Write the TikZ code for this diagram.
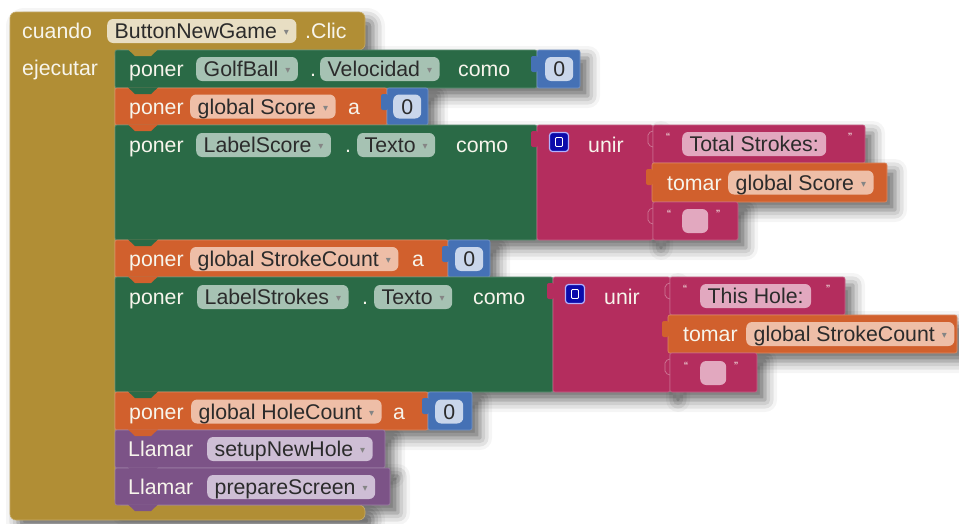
\documentclass[tikz,border=0pt]{standalone}
\usepackage{fontspec}
\setmainfont{Liberation Sans}
\newfontfamily\arrowfont{DejaVu Sans}
\usetikzlibrary{shadows.blur}

\definecolor{ctrl}{HTML}{B18E35}
\definecolor{ctrlfld}{HTML}{E8DEC3}
\definecolor{setgreen}{HTML}{2A6A46}
\definecolor{grnfld}{HTML}{A6C2B3}
\definecolor{vrorange}{HTML}{D1602D}
\definecolor{vrfld}{HTML}{EEBEA7}
\definecolor{numblue}{HTML}{4571B5}
\definecolor{numfld}{HTML}{C9D6EB}
\definecolor{txtmag}{HTML}{B42D5E}
\definecolor{txtfld}{HTML}{E2A8BF}
\definecolor{procpurple}{HTML}{7C5387}
\definecolor{procfld}{HTML}{CEBED5}
\definecolor{joinblue}{HTML}{0B0BAA}
\definecolor{labeltext}{HTML}{F7F5EC}
\definecolor{fieldtext}{HTML}{2B2B2B}

\newcommand{\dd}{\hspace{7pt}\raisebox{3pt}{\arrowfont\fontsize{10}{10}\selectfont\color{black!48}▾}}

\begin{document}
\begin{tikzpicture}[x=1pt,y=-1pt,
    every node/.style={font=\fontsize{21.3}{24}\selectfont},
    lbl/.style={anchor=west,inner sep=0pt,text=labeltext,text height=15.5pt,text depth=0pt},
    fld/.style={anchor=west,fill=#1,text=fieldtext,rounded corners=6pt,inner xsep=7.5pt,inner ysep=0pt,text height=15.5pt,text depth=0pt,minimum height=24pt},
    zero/.style={fld=numfld,minimum width=28pt,inner xsep=0pt},
    qmark/.style={inner sep=0pt,text=labeltext,font=\fontsize{12}{12}\selectfont},
    joinicon/.style={fill=joinblue,draw=white!70!blue,line width=1.2pt,rounded corners=3pt,minimum size=19pt,inner sep=0pt},
    joininner/.style={draw=white,line width=0.9pt,rounded corners=1pt,minimum width=7pt,minimum height=9pt,inner sep=0pt},
    blk/.style={fill=#1,draw=#1!75!white,line width=0.6pt,rounded corners=2pt},
    shd/.style={blur shadow={shadow xshift=8pt,shadow yshift=-8pt,shadow blur radius=12pt,shadow opacity=60}}]
    \useasboundingbox (0,0) rectangle (959,523);

    \path[shd, rounded corners=6pt] (10,12) -- (365,12) -- (365,50) -- (115,50) -- (115,505) -- (365,505) -- (365,520) -- (10,520) -- cycle;
    \foreach \xa/\ya/\xb/\yb in {115/50/580/88, 115/88/428/125, 115/125/653/240, 653/125/865/163, 652/163/887/202, 653/202/738/240,
        115/240/490/277, 115/277/670/392, 670/277/845/315, 668/315/957/353, 670/353/757/392, 115/392/472/430, 115/430/385/468, 115/468/390/505}
        \path[shd] (\xa,\ya) rectangle (\xb,\yb);

    \path[blk=ctrl, rounded corners=6pt] (10,12) -- (365,12) -- (365,50) -- (115,50) -- (115,505) -- (365,505) -- (365,520) -- (10,520) -- cycle;

    \path[blk=setgreen] (115,50) rectangle (537,88);
    \path[blk=numblue] (537,50) rectangle (580,88);
    \path[blk=vrorange] (115,88) rectangle (387,125);
    \path[blk=numblue] (387,88) rectangle (428,125);
    \path[blk=setgreen] (115,125) rectangle (537,240);
    \path[blk=txtmag] (537,125) rectangle (653,240);
    \path[blk=txtmag] (653,125) rectangle (865,163);
    \path[blk=vrorange] (652,163) rectangle (887,202);
    \path[blk=txtmag] (653,202) rectangle (738,240);
    \path[blk=vrorange] (115,240) rectangle (448,277);
    \path[blk=numblue] (448,240) rectangle (490,277);
    \path[blk=setgreen] (115,277) rectangle (553,392);
    \path[blk=txtmag] (553,277) rectangle (670,392);
    \path[blk=txtmag] (670,277) rectangle (845,315);
    \path[blk=vrorange] (668,315) rectangle (957,353);
    \path[blk=txtmag] (670,353) rectangle (757,392);
    \path[blk=vrorange] (115,392) rectangle (428,430);
    \path[blk=numblue] (428,392) rectangle (472,430);
    \path[blk=procpurple] (115,430) rectangle (385,468);
    \path[blk=procpurple] (115,468) rectangle (390,505);

    \foreach \y/\c in {50/ctrl, 88/setgreen, 125/vrorange, 240/setgreen, 277/vrorange, 392/setgreen, 430/vrorange, 468/procpurple, 505/procpurple}
        \fill[\c] (128,\y-0.6) -- (158,\y-0.6) -- (151,\y+6) -- (135,\y+6) -- cycle;
    \foreach \x/\y/\c in {537/50/numblue, 387/88/numblue, 537/125/txtmag, 652/163/vrorange, 448/240/numblue, 553/277/txtmag, 668/315/vrorange, 428/392/numblue}
        \fill[\c, rounded corners=2pt] (\x-6,\y+6) rectangle (\x+1,\y+22);
    \foreach \x/\y in {653/125, 653/202, 670/277, 670/353}
        \draw[txtmag!65!white, line width=0.7pt, rounded corners=2pt] (\x,\y+6) -- (\x-5,\y+8) -- (\x-5,\y+20) -- (\x,\y+22);

    \node[lbl] (cuando) at (22,31) {cuando};
    \node[fld=ctrlfld] (evt) at (107,31) {ButtonNewGame\dd};
    \node[lbl] (clic) at (305,31) {.Clic};
    \node[lbl] (ejecutar) at (22,68) {ejecutar};

    \node[lbl] (poner1) at (129,69) {poner};
    \node[fld=grnfld] (golf) at (196,69) {GolfBall\dd};
    \node[lbl] (dot1) at (310,69) {.};
    \node[fld=grnfld] (vel) at (320,69) {Velocidad\dd};
    \node[lbl] (como1) at (458,69) {como};
    \node[zero] (zero1) at (545,69) {0};

    \node[lbl] (poner2) at (129,106.5) {poner};
    \node[fld=vrfld] (score) at (190,106.5) {global Score\dd};
    \node[lbl] (a1) at (348,106.5) {a};
    \node[zero] (zero2) at (393,106.5) {0};

    \node[lbl] (poner3) at (129,145) {poner};
    \node[fld=grnfld] (lscore) at (196,145) {LabelScore\dd};
    \node[lbl] (dot2) at (345,145) {.};
    \node[fld=grnfld] (texto1) at (357,145) {Texto\dd};
    \node[lbl] (como2) at (456,145) {como};
    \node[joinicon] (join1) at (559,142) {};
    \node[joininner] (joinin1) at (join1) {};
    \node[lbl] (unir1) at (588,145) {unir};
    \node[qmark] (qa1) at (668,137) {“};
    \node[fld=txtfld] (total) at (682,144) {Total Strokes:};
    \node[qmark] (qb1) at (850,137) {”};
    \node[lbl] (tomar1) at (667,182.5) {tomar};
    \node[fld=vrfld] (getscore) at (728,182.5) {global Score\dd};
    \node[qmark] (qc1) at (669,214) {“};
    \node[fld=txtfld, minimum width=26pt] (empty1) at (682,221) {};
    \node[qmark] (qd1) at (718,214) {”};

    \node[lbl] (poner4) at (129,259) {poner};
    \node[fld=vrfld] (stroke) at (190,259) {global StrokeCount\dd};
    \node[lbl] (a2) at (412,259) {a};
    \node[zero] (zero3) at (455,259) {0};

    \node[lbl] (poner5) at (129,297) {poner};
    \node[fld=grnfld] (lstrokes) at (197,297) {LabelStrokes\dd};
    \node[lbl] (dot3) at (362,297) {.};
    \node[fld=grnfld] (texto2) at (374,297) {Texto\dd};
    \node[lbl] (como3) at (473,297) {como};
    \node[joinicon] (join2) at (575,294) {};
    \node[joininner] (joinin2) at (join2) {};
    \node[lbl] (unir2) at (604,297) {unir};
    \node[qmark] (qa2) at (685,289) {“};
    \node[fld=txtfld] (hole) at (700,296) {This Hole:};
    \node[qmark] (qb2) at (828,289) {”};
    \node[lbl] (tomar2) at (683,334) {tomar};
    \node[fld=vrfld] (getstroke) at (746,334) {global StrokeCount\dd};
    \node[qmark] (qc2) at (686,366) {“};
    \node[fld=txtfld, minimum width=26pt] (empty2) at (700,373) {};
    \node[qmark] (qd2) at (736,366) {”};

    \node[lbl] (poner6) at (129,411.5) {poner};
    \node[fld=vrfld] (holecount) at (191,411.5) {global HoleCount\dd};
    \node[lbl] (a3) at (393,411.5) {a};
    \node[zero] (zero4) at (435,411.5) {0};

    \node[lbl] (llamar1) at (128,449) {Llamar};
    \node[fld=procfld] (setup) at (207,449) {setupNewHole\dd};
    \node[lbl] (llamar2) at (128,487) {Llamar};
    \node[fld=procfld] (prepare) at (207,487) {prepareScreen\dd};
\end{tikzpicture}
\end{document}
